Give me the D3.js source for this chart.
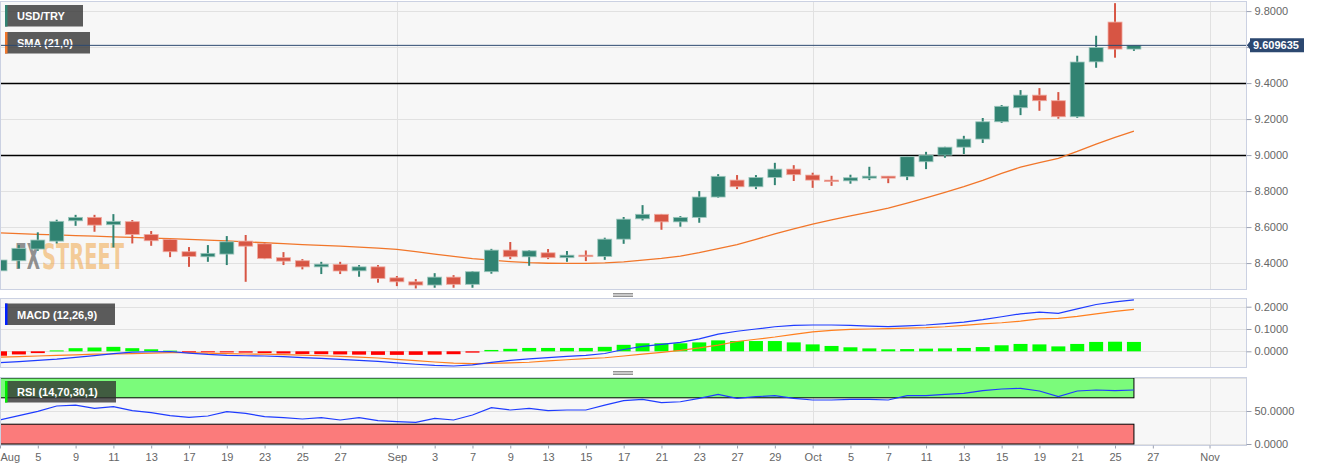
<!DOCTYPE html>
<html>
<head>
<meta charset="utf-8">
<script src="https://d3js.org/d3.v7.min.js"></script>
<title>USD/TRY</title>
<style>
  body { margin: 0; background: #fff; }
  svg { display: block; font-family: "Liberation Sans", Arial, sans-serif; }
  .axis text { fill: #666; font-size: 11px; }
  .axis line { stroke: #9aa0b0; }
  .axis .domain { display: none; }
  .legend-text { fill: #fff; font-size: 11px; font-weight: bold; }
</style>
</head>
<body>
<svg width="1323" height="471"></svg>
<script>
// trading days shown on the time axis
const augDays = [3,4,5,6,9,10,11,12,13,16,17,18,19,20,23,24,25,26,27,30,31];
const sepDays = [1,2,3,6,7,8,9,10,13,14,15,16,17,20,21,22,23,24,27,28,29,30];
const octDays = [1,4,5,6,7,8,11,12,13,14,15,18,19,20,21,22,25,26,27,28,29];
const novDays = [1,2];
const days = [].concat(
  augDays.map(d => 'Aug ' + d), sepDays.map(d => 'Sep ' + d),
  octDays.map(d => 'Oct ' + d), novDays.map(d => 'Nov ' + d));

const tickDays = ['Aug 3','Aug 5','Aug 9','Aug 11','Aug 13','Aug 17','Aug 19','Aug 23','Aug 25','Aug 27',
  'Sep 1','Sep 3','Sep 7','Sep 9','Sep 13','Sep 15','Sep 17','Sep 21','Sep 23','Sep 27','Sep 29',
  'Oct 1','Oct 5','Oct 7','Oct 11','Oct 13','Oct 15','Oct 19','Oct 21','Oct 25','Oct 27','Nov 1'];
const tickText = ['Aug','5','9','11','13','17','19','23','25','27',
  'Sep','3','7','9','13','15','17','21','23','27','29',
  'Oct','5','7','11','13','15','19','21','25','27','Nov'];
const monthStarts = ['Sep 1','Oct 1','Nov 1'];

// USD/TRY daily candles, Aug 3 .. Oct 26
const opens = [8.357,8.413,8.478,8.522,8.635,8.654,8.613,8.630,8.559,8.532,8.463,8.435,8.450,8.522,8.507,8.430,8.413,8.379,8.393,8.357,8.379,
  8.318,8.296,8.278,8.322,8.282,8.352,8.472,8.435,8.457,8.430,8.444,8.437,8.533,8.646,8.671,8.629,8.654,8.767,8.861,8.824,8.876,8.922,
  8.889,8.861,8.857,8.872,8.883,8.880,8.963,9.000,9.044,9.089,9.185,9.263,9.333,9.302,9.213,9.518,9.739,9.589];
const highs = [8.439,8.500,8.571,8.641,8.668,8.668,8.672,8.639,8.578,8.532,8.489,8.500,8.550,8.556,8.513,8.461,8.422,8.407,8.407,8.389,8.389,
  8.328,8.311,8.344,8.333,8.356,8.479,8.517,8.472,8.478,8.467,8.470,8.541,8.656,8.722,8.673,8.661,8.800,8.894,8.889,8.889,8.957,8.944,
  8.902,8.885,8.891,8.935,8.883,8.991,9.018,9.046,9.107,9.206,9.278,9.361,9.372,9.350,9.552,9.663,9.844,9.610];
const lows = [8.296,8.371,8.468,8.509,8.607,8.574,8.487,8.509,8.496,8.433,8.379,8.407,8.389,8.296,8.422,8.389,8.365,8.339,8.339,8.324,8.291,
  8.272,8.259,8.263,8.263,8.263,8.341,8.422,8.385,8.422,8.407,8.411,8.418,8.507,8.637,8.585,8.602,8.624,8.763,8.811,8.811,8.833,8.856,
  8.818,8.829,8.841,8.861,8.844,8.861,8.922,8.985,9.006,9.067,9.179,9.222,9.246,9.202,9.207,9.485,9.541,9.579];
const closes = [8.417,8.482,8.528,8.632,8.654,8.611,8.632,8.559,8.524,8.463,8.437,8.454,8.518,8.494,8.426,8.411,8.379,8.394,8.356,8.379,8.315,
  8.296,8.278,8.322,8.282,8.352,8.472,8.435,8.468,8.430,8.444,8.437,8.533,8.644,8.671,8.629,8.654,8.767,8.882,8.824,8.876,8.922,8.891,
  8.861,8.856,8.874,8.883,8.872,8.991,9.000,9.044,9.089,9.185,9.271,9.333,9.302,9.213,9.517,9.598,9.589,9.609635];
const sma21 = [8.568,8.564,8.560,8.557,8.553,8.550,8.546,8.543,8.539,8.536,8.532,8.527,8.523,8.518,8.513,8.508,8.503,8.498,8.494,8.489,8.483,
  8.476,8.464,8.450,8.437,8.425,8.416,8.408,8.402,8.399,8.398,8.398,8.401,8.407,8.416,8.426,8.439,8.458,8.480,8.503,8.532,8.562,8.590,
  8.617,8.640,8.662,8.683,8.705,8.733,8.762,8.793,8.825,8.860,8.898,8.933,8.958,8.982,9.020,9.061,9.098,9.133];

// MACD (12,26,9)
const macdLine = [-0.051,-0.046,-0.041,-0.035,-0.027,-0.019,-0.010,-0.004,-0.002,-0.001,-0.008,-0.014,-0.018,-0.020,-0.021,-0.024,-0.028,-0.032,-0.036,-0.041,-0.045,
  -0.052,-0.058,-0.063,-0.066,-0.061,-0.050,-0.041,-0.034,-0.028,-0.023,-0.018,-0.010,0.008,0.022,0.031,0.040,0.056,0.077,0.090,0.100,0.110,0.116,
  0.118,0.118,0.116,0.113,0.111,0.114,0.118,0.124,0.131,0.142,0.155,0.168,0.176,0.170,0.190,0.210,0.222,0.231];
const signalLine = [-0.026,-0.024,-0.021,-0.018,-0.016,-0.013,-0.012,-0.010,-0.008,-0.006,-0.006,-0.008,-0.010,-0.012,-0.013,-0.015,-0.017,-0.020,-0.023,-0.026,-0.030,
  -0.036,-0.042,-0.048,-0.053,-0.055,-0.054,-0.052,-0.049,-0.043,-0.038,-0.033,-0.029,-0.021,-0.013,-0.005,0.004,0.015,0.028,0.044,0.054,0.064,0.076,
  0.087,0.094,0.098,0.100,0.102,0.104,0.106,0.110,0.116,0.123,0.128,0.135,0.145,0.148,0.157,0.168,0.179,0.188];
const histogram = [-0.020,-0.014,-0.008,0.004,0.014,0.017,0.020,0.014,0.009,0.003,-0.003,-0.004,-0.005,-0.006,-0.008,-0.010,-0.012,-0.013,-0.014,-0.015,-0.016,
  -0.016,-0.016,-0.015,-0.013,-0.006,0.006,0.011,0.015,0.015,0.015,0.015,0.020,0.029,0.036,0.036,0.036,0.040,0.049,0.046,0.046,0.046,0.040,
  0.031,0.024,0.018,0.013,0.009,0.010,0.012,0.013,0.015,0.019,0.027,0.033,0.031,0.022,0.033,0.042,0.043,0.042];

// RSI (14)
const rsi = [36.4,43,49.5,57.6,59,54,56.5,50.5,47.5,43,40.4,42.4,49,46.5,41.4,39.9,37.9,39.9,36.4,39.9,35.3,
  33.8,32.8,38.9,36.4,43.9,55,51.5,54,50.5,51.5,51.5,59,65.6,67.7,62.6,64,69.2,75.3,69.2,71.7,73.2,69.2,
  66.7,66.7,67.7,67.7,66.7,73.2,73.2,75.3,76.8,80.8,83.3,84.3,80.3,71.7,80.3,81.8,80.8,81.8];

const priceTicks = [8.4, 8.6, 8.8, 9.0, 9.2, 9.4, 9.6, 9.8];
const levelLines = [9.4, 9.0];
const macdTicks = [0, 0.1, 0.2];
const rsiTicks = [0, 50];
const rsiBands = [[70, 100, '#7bfb7b'], [0, 30, '#fb7b7b']];

const plotRight = 1246;
const main = { top: 1, bottom: 289 };
const macdP = { top: 298, bottom: 367 };
const rsiP = { top: 377, bottom: 445 };
const upColor = '#318372';
const downColor = '#d75544';

const svg = d3.select('svg');
const dayIndex = d => days.indexOf(d);

const x = d3.scaleLinear().domain([0, 65.93]).range([0, plotRight]);
const y = d3.scaleLinear().domain([8.256, 9.856]).range([main.bottom, main.top]);
const yMacd = d3.scaleLinear().domain([-0.0704, 0.239]).range([macdP.bottom, macdP.top]);
const yRsi = d3.scaleLinear().domain([-1.5, 101.5]).range([rsiP.bottom, rsiP.top]);

const candles = closes.map((c, i) => ({ i, o: opens[i], h: highs[i], l: lows[i], c }));
const bodyW = 14;

svg.append('defs').selectAll('clipPath')
  .data([['clipMain', main], ['clipMacd', macdP], ['clipRsi', rsiP]])
  .enter().append('clipPath').attr('id', d => d[0])
  .append('rect').attr('x', 0).attr('y', d => d[1].top)
  .attr('width', plotRight).attr('height', d => d[1].bottom - d[1].top);

// panel backgrounds + grid
function panel(p, yScale, ticks) {
  const g = svg.append('g');
  g.append('rect').attr('x', 0.5).attr('y', p.top + 0.5)
    .attr('width', plotRight).attr('height', p.bottom - p.top)
    .attr('fill', '#f7f7f7');
  g.selectAll('.hgrid').data(ticks).enter().append('line')
    .attr('x1', 0).attr('x2', plotRight)
    .attr('y1', d => Math.round(yScale(d)) + 0.5).attr('y2', d => Math.round(yScale(d)) + 0.5)
    .attr('stroke', '#e1e1e1');
  g.selectAll('.vgrid').data(monthStarts).enter().append('line')
    .attr('x1', d => Math.round(x(dayIndex(d))) + 0.5).attr('x2', d => Math.round(x(dayIndex(d))) + 0.5)
    .attr('y1', p.top).attr('y2', p.bottom)
    .attr('stroke', '#e1e1e1');
  return g;
}
panel(main, y, priceTicks);
panel(macdP, yMacd, macdTicks);
panel(rsiP, yRsi, rsiTicks.concat([100]));

// watermark
const wm = svg.append('g')
  .attr('font-family', '"DejaVu Sans Condensed", "DejaVu Sans", sans-serif')
  .attr('font-weight', 'bold').attr('font-size', 36);
wm.append('text').attr('x', 15).attr('y', 269)
  .attr('textLength', 25).attr('lengthAdjust', 'spacingAndGlyphs')
  .attr('fill', 'rgba(105,105,105,0.72)').text('FX');
wm.append('text').attr('x', 42).attr('y', 269)
  .attr('textLength', 82).attr('lengthAdjust', 'spacingAndGlyphs')
  .attr('fill', 'rgba(240,165,70,0.55)').text('STREET');

// main panel marks
const mainG = svg.append('g').attr('clip-path', 'url(#clipMain)');

mainG.selectAll('.level').data(levelLines).enter().append('line')
  .attr('x1', 0).attr('x2', plotRight)
  .attr('y1', d => Math.round(y(d)) + 0.5).attr('y2', d => Math.round(y(d)) + 0.5)
  .attr('stroke', '#000').attr('stroke-width', 1.3);

mainG.append('path').datum(sma21)
  .attr('fill', 'none').attr('stroke', '#f1762a').attr('stroke-width', 1.3)
  .attr('d', d3.line().x((d, i) => x(i)).y(d => y(d)));

const cg = mainG.selectAll('.candle').data(candles).enter().append('g');
cg.append('line')
  .attr('x1', d => x(d.i)).attr('x2', d => x(d.i))
  .attr('y1', d => y(d.h)).attr('y2', d => y(d.l))
  .attr('stroke', d => d.c >= d.o ? upColor : downColor).attr('stroke-width', 2);
cg.append('rect')
  .attr('x', d => x(d.i) - bodyW / 2)
  .attr('y', d => y(Math.max(d.o, d.c)))
  .attr('width', bodyW)
  .attr('height', d => Math.max(1.5, Math.abs(y(d.o) - y(d.c))))
  .attr('fill', d => d.c >= d.o ? upColor : downColor)
  .attr('stroke', d => d.c >= d.o ? '#9cc7bd' : '#f0aaa0')
  .attr('stroke-width', 0.8);

// legends
function legend(yTop, w, color, label) {
  const g = svg.append('g');
  g.append('rect').attr('x', 5).attr('y', yTop).attr('width', w).attr('height', 21.5)
    .attr('fill', 'rgba(48,48,48,0.78)');
  g.append('rect').attr('x', 5).attr('y', yTop).attr('width', 2.5).attr('height', 21.5)
    .attr('fill', color);
  g.append('text').attr('class', 'legend-text').attr('x', 17).attr('y', yTop + 15)
    .text(label);
  return g;
}
legend(5, 78, upColor, 'USD/TRY');
legend(32, 85, '#f1762a', 'SMA (21,0)');

// current price line
const last = closes[closes.length - 1];
svg.append('line')
  .attr('x1', 0).attr('x2', plotRight + 4)
  .attr('y1', y(last)).attr('y2', y(last))
  .attr('stroke', '#2c4870').attr('stroke-width', 1);

// MACD panel
const macdG = svg.append('g').attr('clip-path', 'url(#clipMacd)');
macdG.selectAll('.hist').data(histogram).enter().append('rect')
  .attr('x', (d, i) => x(i) - bodyW / 2)
  .attr('y', d => yMacd(Math.max(0, d)))
  .attr('width', bodyW)
  .attr('height', d => Math.max(1, Math.abs(yMacd(d) - yMacd(0))))
  .attr('fill', d => d >= 0 ? '#00ff00' : '#ff0000');
macdG.append('path').datum(signalLine)
  .attr('fill', 'none').attr('stroke', '#ff7f1e').attr('stroke-width', 1.2)
  .attr('d', d3.line().x((d, i) => x(i)).y(d => yMacd(d)));
macdG.append('path').datum(macdLine)
  .attr('fill', 'none').attr('stroke', '#1f3cff').attr('stroke-width', 1.2)
  .attr('d', d3.line().x((d, i) => x(i)).y(d => yMacd(d)));
legend(303.5, 110, '#0020ff', 'MACD (12,26,9)');

// RSI panel
const rsiG = svg.append('g').attr('clip-path', 'url(#clipRsi)');
rsiG.selectAll('.band').data(rsiBands).enter().append('rect')
  .attr('x', x(0)).attr('width', x(closes.length - 1) - x(0))
  .attr('y', d => yRsi(d[1])).attr('height', d => yRsi(d[0]) - yRsi(d[1]))
  .attr('fill', d => d[2]).attr('stroke', '#000').attr('stroke-width', 1);
rsiG.append('path').datum(rsi)
  .attr('fill', 'none').attr('stroke', '#1f3cff').attr('stroke-width', 1.2)
  .attr('d', d3.line().x((d, i) => x(i)).y(d => yRsi(d)));
legend(381, 111, '#00ee00', 'RSI (14,70,30,1)');

// panel borders
[main, macdP, rsiP].forEach(p => {
  svg.append('rect').attr('x', 0.5).attr('y', p.top + 0.5)
    .attr('width', plotRight).attr('height', p.bottom - p.top)
    .attr('fill', 'none').attr('stroke', '#cbd1e2');
});

// panel grips
[293.5, 371.5].forEach(gy => {
  svg.append('g').selectAll('line').data([0, 1.5, 3]).enter().append('line')
    .attr('x1', 613).attr('x2', 633)
    .attr('y1', d => gy + d).attr('y2', d => gy + d)
    .attr('stroke', '#777').attr('stroke-width', 0.8);
});

// right axes
const fmt = d3.format('.4f');
const tagY = y(last);
const priceAxis = svg.append('g').attr('class', 'axis').attr('transform', `translate(${plotRight + 0.5},0)`)
  .call(d3.axisRight(y).tickValues(priceTicks).tickFormat(fmt).tickSize(5).tickPadding(3));
// the price tag sits over the label nearest to it
priceAxis.selectAll('.tick text').filter(d => Math.abs(y(d) - tagY) < 10).remove();
svg.append('g').attr('class', 'axis').attr('transform', `translate(${plotRight + 0.5},0)`)
  .call(d3.axisRight(yMacd).tickValues(macdTicks).tickFormat(fmt).tickSize(5).tickPadding(3));
svg.append('g').attr('class', 'axis').attr('transform', `translate(${plotRight + 0.5},0)`)
  .call(d3.axisRight(yRsi).tickValues(rsiTicks).tickFormat(fmt).tickSize(5).tickPadding(3));

// price tag
const tag = svg.append('g');
tag.append('path')
  .attr('d', `M${plotRight + 1},${tagY} L${plotRight + 4},${tagY - 4} L${plotRight + 4},${tagY - 7} L${plotRight + 58},${tagY - 7} L${plotRight + 58},${tagY + 7} L${plotRight + 4},${tagY + 7} L${plotRight + 4},${tagY + 4} Z`)
  .attr('fill', '#2c4870');
tag.append('text').attr('x', plotRight + 7).attr('y', tagY + 4)
  .attr('fill', '#fff').attr('font-size', 11).attr('font-weight', 'bold')
  .text(last.toFixed(6));

// time axis
const xAxisG = svg.append('g').attr('class', 'axis').attr('transform', `translate(0,${rsiP.bottom + 0.5})`)
  .call(d3.axisBottom(x).tickValues(tickDays.map(dayIndex))
    .tickFormat((d, i) => tickText[i]).tickSize(3).tickPadding(5));
xAxisG.selectAll('.tick text').filter(d => d === 0).attr('text-anchor', 'start').attr('x', 0);
</script>
</body>
</html>
